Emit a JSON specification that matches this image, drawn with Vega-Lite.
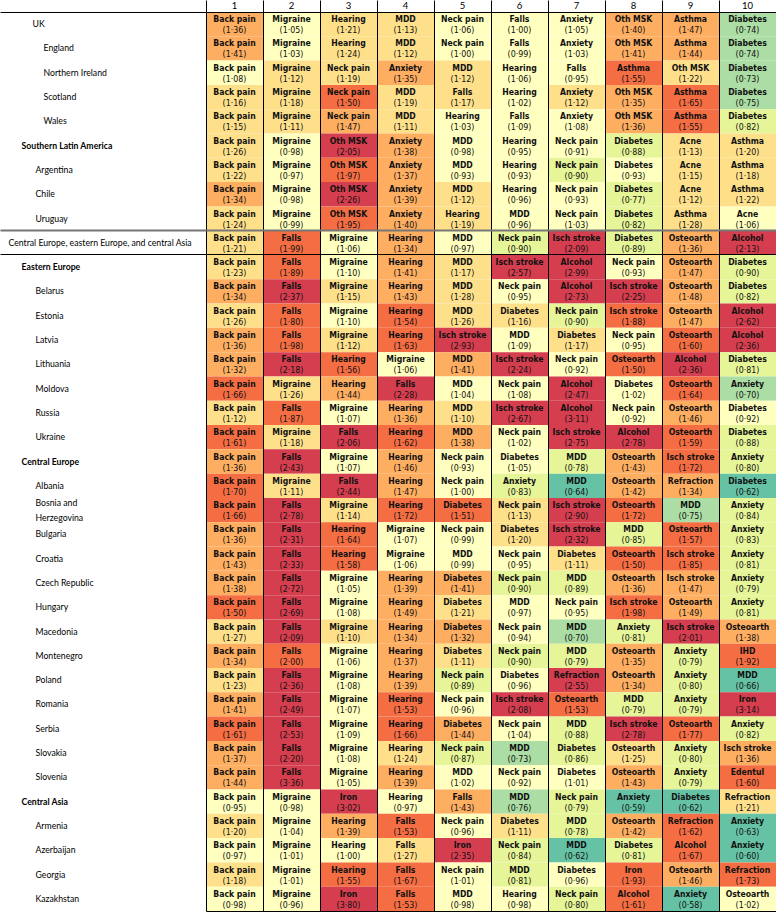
{
  "$schema": "https://vega.github.io/schema/vega-lite/v6.json",
  "autosize": "none",
  "width": 570,
  "height": 899,
  "padding": {"left": 206, "top": 12, "right": 0, "bottom": 5},
  "background": "white",
  "config": {"view": {"stroke": null}},
  "data": {"values": [
{"region":"UK","col":1,"cause":"Back pain","ratio":1.36},{"region":"UK","col":2,"cause":"Migraine","ratio":1.05},{"region":"UK","col":3,"cause":"Hearing","ratio":1.21},{"region":"UK","col":4,"cause":"MDD","ratio":1.13},{"region":"UK","col":5,"cause":"Neck pain","ratio":1.06},{"region":"UK","col":6,"cause":"Falls","ratio":1.00},{"region":"UK","col":7,"cause":"Anxiety","ratio":1.05},{"region":"UK","col":8,"cause":"Oth MSK","ratio":1.40},{"region":"UK","col":9,"cause":"Asthma","ratio":1.47},{"region":"UK","col":10,"cause":"Diabetes","ratio":0.74},
{"region":"England","col":1,"cause":"Back pain","ratio":1.41},{"region":"England","col":2,"cause":"Migraine","ratio":1.03},{"region":"England","col":3,"cause":"Hearing","ratio":1.24},{"region":"England","col":4,"cause":"MDD","ratio":1.12},{"region":"England","col":5,"cause":"Neck pain","ratio":1.00},{"region":"England","col":6,"cause":"Falls","ratio":0.99},{"region":"England","col":7,"cause":"Anxiety","ratio":1.03},{"region":"England","col":8,"cause":"Oth MSK","ratio":1.41},{"region":"England","col":9,"cause":"Asthma","ratio":1.44},{"region":"England","col":10,"cause":"Diabetes","ratio":0.74},
{"region":"Northern Ireland","col":1,"cause":"Back pain","ratio":1.08},{"region":"Northern Ireland","col":2,"cause":"Migraine","ratio":1.12},{"region":"Northern Ireland","col":3,"cause":"Neck pain","ratio":1.19},{"region":"Northern Ireland","col":4,"cause":"Anxiety","ratio":1.35},{"region":"Northern Ireland","col":5,"cause":"MDD","ratio":1.12},{"region":"Northern Ireland","col":6,"cause":"Hearing","ratio":1.06},{"region":"Northern Ireland","col":7,"cause":"Falls","ratio":0.95},{"region":"Northern Ireland","col":8,"cause":"Asthma","ratio":1.55},{"region":"Northern Ireland","col":9,"cause":"Oth MSK","ratio":1.22},{"region":"Northern Ireland","col":10,"cause":"Diabetes","ratio":0.73},
{"region":"Scotland","col":1,"cause":"Back pain","ratio":1.16},{"region":"Scotland","col":2,"cause":"Migraine","ratio":1.18},{"region":"Scotland","col":3,"cause":"Neck pain","ratio":1.50},{"region":"Scotland","col":4,"cause":"MDD","ratio":1.19},{"region":"Scotland","col":5,"cause":"Falls","ratio":1.17},{"region":"Scotland","col":6,"cause":"Hearing","ratio":1.02},{"region":"Scotland","col":7,"cause":"Anxiety","ratio":1.12},{"region":"Scotland","col":8,"cause":"Oth MSK","ratio":1.35},{"region":"Scotland","col":9,"cause":"Asthma","ratio":1.65},{"region":"Scotland","col":10,"cause":"Diabetes","ratio":0.75},
{"region":"Wales","col":1,"cause":"Back pain","ratio":1.15},{"region":"Wales","col":2,"cause":"Migraine","ratio":1.11},{"region":"Wales","col":3,"cause":"Neck pain","ratio":1.47},{"region":"Wales","col":4,"cause":"MDD","ratio":1.11},{"region":"Wales","col":5,"cause":"Hearing","ratio":1.03},{"region":"Wales","col":6,"cause":"Falls","ratio":1.09},{"region":"Wales","col":7,"cause":"Anxiety","ratio":1.08},{"region":"Wales","col":8,"cause":"Oth MSK","ratio":1.36},{"region":"Wales","col":9,"cause":"Asthma","ratio":1.55},{"region":"Wales","col":10,"cause":"Diabetes","ratio":0.82},
{"region":"Southern Latin America","col":1,"cause":"Back pain","ratio":1.26},{"region":"Southern Latin America","col":2,"cause":"Migraine","ratio":0.98},{"region":"Southern Latin America","col":3,"cause":"Oth MSK","ratio":2.05},{"region":"Southern Latin America","col":4,"cause":"Anxiety","ratio":1.38},{"region":"Southern Latin America","col":5,"cause":"MDD","ratio":0.98},{"region":"Southern Latin America","col":6,"cause":"Hearing","ratio":0.95},{"region":"Southern Latin America","col":7,"cause":"Neck pain","ratio":0.91},{"region":"Southern Latin America","col":8,"cause":"Diabetes","ratio":0.88},{"region":"Southern Latin America","col":9,"cause":"Acne","ratio":1.13},{"region":"Southern Latin America","col":10,"cause":"Asthma","ratio":1.20},
{"region":"Argentina","col":1,"cause":"Back pain","ratio":1.22},{"region":"Argentina","col":2,"cause":"Migraine","ratio":0.97},{"region":"Argentina","col":3,"cause":"Oth MSK","ratio":1.97},{"region":"Argentina","col":4,"cause":"Anxiety","ratio":1.37},{"region":"Argentina","col":5,"cause":"MDD","ratio":0.93},{"region":"Argentina","col":6,"cause":"Hearing","ratio":0.93},{"region":"Argentina","col":7,"cause":"Neck pain","ratio":0.90},{"region":"Argentina","col":8,"cause":"Diabetes","ratio":0.93},{"region":"Argentina","col":9,"cause":"Acne","ratio":1.15},{"region":"Argentina","col":10,"cause":"Asthma","ratio":1.18},
{"region":"Chile","col":1,"cause":"Back pain","ratio":1.34},{"region":"Chile","col":2,"cause":"Migraine","ratio":0.98},{"region":"Chile","col":3,"cause":"Oth MSK","ratio":2.26},{"region":"Chile","col":4,"cause":"Anxiety","ratio":1.39},{"region":"Chile","col":5,"cause":"MDD","ratio":1.12},{"region":"Chile","col":6,"cause":"Hearing","ratio":0.96},{"region":"Chile","col":7,"cause":"Neck pain","ratio":0.93},{"region":"Chile","col":8,"cause":"Diabetes","ratio":0.77},{"region":"Chile","col":9,"cause":"Acne","ratio":1.12},{"region":"Chile","col":10,"cause":"Asthma","ratio":1.22},
{"region":"Uruguay","col":1,"cause":"Back pain","ratio":1.24},{"region":"Uruguay","col":2,"cause":"Migraine","ratio":0.99},{"region":"Uruguay","col":3,"cause":"Oth MSK","ratio":1.95},{"region":"Uruguay","col":4,"cause":"Anxiety","ratio":1.40},{"region":"Uruguay","col":5,"cause":"Hearing","ratio":1.19},{"region":"Uruguay","col":6,"cause":"MDD","ratio":0.96},{"region":"Uruguay","col":7,"cause":"Neck pain","ratio":1.03},{"region":"Uruguay","col":8,"cause":"Diabetes","ratio":0.82},{"region":"Uruguay","col":9,"cause":"Asthma","ratio":1.28},{"region":"Uruguay","col":10,"cause":"Acne","ratio":1.06},
{"region":"Central Europe, eastern Europe, and central Asia","col":1,"cause":"Back pain","ratio":1.21},{"region":"Central Europe, eastern Europe, and central Asia","col":2,"cause":"Falls","ratio":1.99},{"region":"Central Europe, eastern Europe, and central Asia","col":3,"cause":"Migraine","ratio":1.06},{"region":"Central Europe, eastern Europe, and central Asia","col":4,"cause":"Hearing","ratio":1.34},{"region":"Central Europe, eastern Europe, and central Asia","col":5,"cause":"MDD","ratio":0.97},{"region":"Central Europe, eastern Europe, and central Asia","col":6,"cause":"Neck pain","ratio":0.90},{"region":"Central Europe, eastern Europe, and central Asia","col":7,"cause":"Isch stroke","ratio":2.09},{"region":"Central Europe, eastern Europe, and central Asia","col":8,"cause":"Diabetes","ratio":0.89},{"region":"Central Europe, eastern Europe, and central Asia","col":9,"cause":"Osteoarth","ratio":1.36},{"region":"Central Europe, eastern Europe, and central Asia","col":10,"cause":"Alcohol","ratio":2.13},
{"region":"Eastern Europe","col":1,"cause":"Back pain","ratio":1.23},{"region":"Eastern Europe","col":2,"cause":"Falls","ratio":1.89},{"region":"Eastern Europe","col":3,"cause":"Migraine","ratio":1.097},{"region":"Eastern Europe","col":4,"cause":"Hearing","ratio":1.41},{"region":"Eastern Europe","col":5,"cause":"MDD","ratio":1.17},{"region":"Eastern Europe","col":6,"cause":"Isch stroke","ratio":2.57},{"region":"Eastern Europe","col":7,"cause":"Alcohol","ratio":2.99},{"region":"Eastern Europe","col":8,"cause":"Neck pain","ratio":0.93},{"region":"Eastern Europe","col":9,"cause":"Osteoarth","ratio":1.47},{"region":"Eastern Europe","col":10,"cause":"Diabetes","ratio":0.90},
{"region":"Belarus","col":1,"cause":"Back pain","ratio":1.34},{"region":"Belarus","col":2,"cause":"Falls","ratio":2.37},{"region":"Belarus","col":3,"cause":"Migraine","ratio":1.15},{"region":"Belarus","col":4,"cause":"Hearing","ratio":1.43},{"region":"Belarus","col":5,"cause":"MDD","ratio":1.28},{"region":"Belarus","col":6,"cause":"Neck pain","ratio":0.95},{"region":"Belarus","col":7,"cause":"Alcohol","ratio":2.73},{"region":"Belarus","col":8,"cause":"Isch stroke","ratio":2.25},{"region":"Belarus","col":9,"cause":"Osteoarth","ratio":1.48},{"region":"Belarus","col":10,"cause":"Diabetes","ratio":0.82},
{"region":"Estonia","col":1,"cause":"Back pain","ratio":1.26},{"region":"Estonia","col":2,"cause":"Falls","ratio":1.80},{"region":"Estonia","col":3,"cause":"Migraine","ratio":1.097},{"region":"Estonia","col":4,"cause":"Hearing","ratio":1.54},{"region":"Estonia","col":5,"cause":"MDD","ratio":1.26},{"region":"Estonia","col":6,"cause":"Diabetes","ratio":1.16},{"region":"Estonia","col":7,"cause":"Neck pain","ratio":0.90},{"region":"Estonia","col":8,"cause":"Isch stroke","ratio":1.88},{"region":"Estonia","col":9,"cause":"Osteoarth","ratio":1.47},{"region":"Estonia","col":10,"cause":"Alcohol","ratio":2.62},
{"region":"Latvia","col":1,"cause":"Back pain","ratio":1.36},{"region":"Latvia","col":2,"cause":"Falls","ratio":1.98},{"region":"Latvia","col":3,"cause":"Migraine","ratio":1.12},{"region":"Latvia","col":4,"cause":"Hearing","ratio":1.63},{"region":"Latvia","col":5,"cause":"Isch stroke","ratio":2.93},{"region":"Latvia","col":6,"cause":"MDD","ratio":1.09},{"region":"Latvia","col":7,"cause":"Diabetes","ratio":1.17},{"region":"Latvia","col":8,"cause":"Neck pain","ratio":0.95},{"region":"Latvia","col":9,"cause":"Osteoarth","ratio":1.60},{"region":"Latvia","col":10,"cause":"Alcohol","ratio":2.36},
{"region":"Lithuania","col":1,"cause":"Back pain","ratio":1.32},{"region":"Lithuania","col":2,"cause":"Falls","ratio":2.18},{"region":"Lithuania","col":3,"cause":"Hearing","ratio":1.56},{"region":"Lithuania","col":4,"cause":"Migraine","ratio":1.06},{"region":"Lithuania","col":5,"cause":"MDD","ratio":1.41},{"region":"Lithuania","col":6,"cause":"Isch stroke","ratio":2.24},{"region":"Lithuania","col":7,"cause":"Neck pain","ratio":0.92},{"region":"Lithuania","col":8,"cause":"Osteoarth","ratio":1.50},{"region":"Lithuania","col":9,"cause":"Alcohol","ratio":2.36},{"region":"Lithuania","col":10,"cause":"Diabetes","ratio":0.81},
{"region":"Moldova","col":1,"cause":"Back pain","ratio":1.66},{"region":"Moldova","col":2,"cause":"Migraine","ratio":1.26},{"region":"Moldova","col":3,"cause":"Hearing","ratio":1.44},{"region":"Moldova","col":4,"cause":"Falls","ratio":2.28},{"region":"Moldova","col":5,"cause":"MDD","ratio":1.04},{"region":"Moldova","col":6,"cause":"Neck pain","ratio":1.08},{"region":"Moldova","col":7,"cause":"Alcohol","ratio":2.47},{"region":"Moldova","col":8,"cause":"Diabetes","ratio":1.02},{"region":"Moldova","col":9,"cause":"Osteoarth","ratio":1.64},{"region":"Moldova","col":10,"cause":"Anxiety","ratio":0.70},
{"region":"Russia","col":1,"cause":"Back pain","ratio":1.12},{"region":"Russia","col":2,"cause":"Falls","ratio":1.87},{"region":"Russia","col":3,"cause":"Migraine","ratio":1.07},{"region":"Russia","col":4,"cause":"Hearing","ratio":1.36},{"region":"Russia","col":5,"cause":"MDD","ratio":1.10},{"region":"Russia","col":6,"cause":"Isch stroke","ratio":2.67},{"region":"Russia","col":7,"cause":"Alcohol","ratio":3.11},{"region":"Russia","col":8,"cause":"Neck pain","ratio":0.92},{"region":"Russia","col":9,"cause":"Osteoarth","ratio":1.46},{"region":"Russia","col":10,"cause":"Diabetes","ratio":0.92},
{"region":"Ukraine","col":1,"cause":"Back pain","ratio":1.61},{"region":"Ukraine","col":2,"cause":"Migraine","ratio":1.18},{"region":"Ukraine","col":3,"cause":"Falls","ratio":2.06},{"region":"Ukraine","col":4,"cause":"Hearing","ratio":1.62},{"region":"Ukraine","col":5,"cause":"MDD","ratio":1.38},{"region":"Ukraine","col":6,"cause":"Neck pain","ratio":1.02},{"region":"Ukraine","col":7,"cause":"Isch stroke","ratio":2.75},{"region":"Ukraine","col":8,"cause":"Alcohol","ratio":2.78},{"region":"Ukraine","col":9,"cause":"Osteoarth","ratio":1.59},{"region":"Ukraine","col":10,"cause":"Diabetes","ratio":0.88},
{"region":"Central Europe","col":1,"cause":"Back pain","ratio":1.36},{"region":"Central Europe","col":2,"cause":"Falls","ratio":2.43},{"region":"Central Europe","col":3,"cause":"Migraine","ratio":1.07},{"region":"Central Europe","col":4,"cause":"Hearing","ratio":1.46},{"region":"Central Europe","col":5,"cause":"Neck pain","ratio":0.93},{"region":"Central Europe","col":6,"cause":"Diabetes","ratio":1.05},{"region":"Central Europe","col":7,"cause":"MDD","ratio":0.78},{"region":"Central Europe","col":8,"cause":"Osteoarth","ratio":1.43},{"region":"Central Europe","col":9,"cause":"Isch stroke","ratio":1.72},{"region":"Central Europe","col":10,"cause":"Anxiety","ratio":0.80},
{"region":"Albania","col":1,"cause":"Back pain","ratio":1.70},{"region":"Albania","col":2,"cause":"Migraine","ratio":1.11},{"region":"Albania","col":3,"cause":"Falls","ratio":2.44},{"region":"Albania","col":4,"cause":"Hearing","ratio":1.47},{"region":"Albania","col":5,"cause":"Neck pain","ratio":1.00},{"region":"Albania","col":6,"cause":"Anxiety","ratio":0.83},{"region":"Albania","col":7,"cause":"MDD","ratio":0.64},{"region":"Albania","col":8,"cause":"Osteoarth","ratio":1.42},{"region":"Albania","col":9,"cause":"Refraction","ratio":1.34},{"region":"Albania","col":10,"cause":"Diabetes","ratio":0.62},
{"region":"Bosnia and Herzegovina","col":1,"cause":"Back pain","ratio":1.66},{"region":"Bosnia and Herzegovina","col":2,"cause":"Falls","ratio":2.78},{"region":"Bosnia and Herzegovina","col":3,"cause":"Migraine","ratio":1.14},{"region":"Bosnia and Herzegovina","col":4,"cause":"Hearing","ratio":1.72},{"region":"Bosnia and Herzegovina","col":5,"cause":"Diabetes","ratio":1.51},{"region":"Bosnia and Herzegovina","col":6,"cause":"Neck pain","ratio":1.13},{"region":"Bosnia and Herzegovina","col":7,"cause":"Isch stroke","ratio":2.90},{"region":"Bosnia and Herzegovina","col":8,"cause":"Osteoarth","ratio":1.72},{"region":"Bosnia and Herzegovina","col":9,"cause":"MDD","ratio":0.75},{"region":"Bosnia and Herzegovina","col":10,"cause":"Anxiety","ratio":0.84},
{"region":"Bulgaria","col":1,"cause":"Back pain","ratio":1.36},{"region":"Bulgaria","col":2,"cause":"Falls","ratio":2.31},{"region":"Bulgaria","col":3,"cause":"Hearing","ratio":1.64},{"region":"Bulgaria","col":4,"cause":"Migraine","ratio":1.07},{"region":"Bulgaria","col":5,"cause":"Neck pain","ratio":0.99},{"region":"Bulgaria","col":6,"cause":"Diabetes","ratio":1.20},{"region":"Bulgaria","col":7,"cause":"Isch stroke","ratio":2.32},{"region":"Bulgaria","col":8,"cause":"MDD","ratio":0.85},{"region":"Bulgaria","col":9,"cause":"Osteoarth","ratio":1.57},{"region":"Bulgaria","col":10,"cause":"Anxiety","ratio":0.83},
{"region":"Croatia","col":1,"cause":"Back pain","ratio":1.43},{"region":"Croatia","col":2,"cause":"Falls","ratio":2.33},{"region":"Croatia","col":3,"cause":"Hearing","ratio":1.58},{"region":"Croatia","col":4,"cause":"Migraine","ratio":1.06},{"region":"Croatia","col":5,"cause":"MDD","ratio":0.99},{"region":"Croatia","col":6,"cause":"Neck pain","ratio":0.95},{"region":"Croatia","col":7,"cause":"Diabetes","ratio":1.11},{"region":"Croatia","col":8,"cause":"Osteoarth","ratio":1.50},{"region":"Croatia","col":9,"cause":"Isch stroke","ratio":1.85},{"region":"Croatia","col":10,"cause":"Anxiety","ratio":0.81},
{"region":"Czech Republic","col":1,"cause":"Back pain","ratio":1.38},{"region":"Czech Republic","col":2,"cause":"Falls","ratio":2.72},{"region":"Czech Republic","col":3,"cause":"Migraine","ratio":1.05},{"region":"Czech Republic","col":4,"cause":"Hearing","ratio":1.39},{"region":"Czech Republic","col":5,"cause":"Diabetes","ratio":1.41},{"region":"Czech Republic","col":6,"cause":"Neck pain","ratio":0.90},{"region":"Czech Republic","col":7,"cause":"MDD","ratio":0.89},{"region":"Czech Republic","col":8,"cause":"Osteoarth","ratio":1.36},{"region":"Czech Republic","col":9,"cause":"Isch stroke","ratio":1.47},{"region":"Czech Republic","col":10,"cause":"Anxiety","ratio":0.79},
{"region":"Hungary","col":1,"cause":"Back pain","ratio":1.50},{"region":"Hungary","col":2,"cause":"Falls","ratio":2.69},{"region":"Hungary","col":3,"cause":"Migraine","ratio":1.08},{"region":"Hungary","col":4,"cause":"Hearing","ratio":1.49},{"region":"Hungary","col":5,"cause":"Diabetes","ratio":1.21},{"region":"Hungary","col":6,"cause":"MDD","ratio":0.97},{"region":"Hungary","col":7,"cause":"Neck pain","ratio":0.95},{"region":"Hungary","col":8,"cause":"Isch stroke","ratio":1.98},{"region":"Hungary","col":9,"cause":"Osteoarth","ratio":1.49},{"region":"Hungary","col":10,"cause":"Anxiety","ratio":0.81},
{"region":"Macedonia","col":1,"cause":"Back pain","ratio":1.27},{"region":"Macedonia","col":2,"cause":"Falls","ratio":2.09},{"region":"Macedonia","col":3,"cause":"Migraine","ratio":1.10},{"region":"Macedonia","col":4,"cause":"Hearing","ratio":1.34},{"region":"Macedonia","col":5,"cause":"Diabetes","ratio":1.32},{"region":"Macedonia","col":6,"cause":"Neck pain","ratio":0.94},{"region":"Macedonia","col":7,"cause":"MDD","ratio":0.70},{"region":"Macedonia","col":8,"cause":"Anxiety","ratio":0.81},{"region":"Macedonia","col":9,"cause":"Isch stroke","ratio":2.01},{"region":"Macedonia","col":10,"cause":"Osteoarth","ratio":1.38},
{"region":"Montenegro","col":1,"cause":"Back pain","ratio":1.34},{"region":"Montenegro","col":2,"cause":"Falls","ratio":2.00},{"region":"Montenegro","col":3,"cause":"Migraine","ratio":1.06},{"region":"Montenegro","col":4,"cause":"Hearing","ratio":1.37},{"region":"Montenegro","col":5,"cause":"Diabetes","ratio":1.11},{"region":"Montenegro","col":6,"cause":"Neck pain","ratio":0.90},{"region":"Montenegro","col":7,"cause":"MDD","ratio":0.79},{"region":"Montenegro","col":8,"cause":"Osteoarth","ratio":1.35},{"region":"Montenegro","col":9,"cause":"Anxiety","ratio":0.79},{"region":"Montenegro","col":10,"cause":"IHD","ratio":1.92},
{"region":"Poland","col":1,"cause":"Back pain","ratio":1.23},{"region":"Poland","col":2,"cause":"Falls","ratio":2.36},{"region":"Poland","col":3,"cause":"Migraine","ratio":1.08},{"region":"Poland","col":4,"cause":"Hearing","ratio":1.39},{"region":"Poland","col":5,"cause":"Neck pain","ratio":0.89},{"region":"Poland","col":6,"cause":"Diabetes","ratio":0.96},{"region":"Poland","col":7,"cause":"Refraction","ratio":2.55},{"region":"Poland","col":8,"cause":"Osteoarth","ratio":1.34},{"region":"Poland","col":9,"cause":"Anxiety","ratio":0.80},{"region":"Poland","col":10,"cause":"MDD","ratio":0.66},
{"region":"Romania","col":1,"cause":"Back pain","ratio":1.41},{"region":"Romania","col":2,"cause":"Falls","ratio":2.49},{"region":"Romania","col":3,"cause":"Migraine","ratio":1.07},{"region":"Romania","col":4,"cause":"Hearing","ratio":1.53},{"region":"Romania","col":5,"cause":"Neck pain","ratio":0.96},{"region":"Romania","col":6,"cause":"Isch stroke","ratio":2.08},{"region":"Romania","col":7,"cause":"Osteoarth","ratio":1.53},{"region":"Romania","col":8,"cause":"MDD","ratio":0.79},{"region":"Romania","col":9,"cause":"Anxiety","ratio":0.79},{"region":"Romania","col":10,"cause":"Iron","ratio":3.14},
{"region":"Serbia","col":1,"cause":"Back pain","ratio":1.61},{"region":"Serbia","col":2,"cause":"Falls","ratio":2.53},{"region":"Serbia","col":3,"cause":"Migraine","ratio":1.09},{"region":"Serbia","col":4,"cause":"Hearing","ratio":1.66},{"region":"Serbia","col":5,"cause":"Diabetes","ratio":1.44},{"region":"Serbia","col":6,"cause":"Neck pain","ratio":1.04},{"region":"Serbia","col":7,"cause":"MDD","ratio":0.88},{"region":"Serbia","col":8,"cause":"Isch stroke","ratio":2.78},{"region":"Serbia","col":9,"cause":"Osteoarth","ratio":1.77},{"region":"Serbia","col":10,"cause":"Anxiety","ratio":0.82},
{"region":"Slovakia","col":1,"cause":"Back pain","ratio":1.37},{"region":"Slovakia","col":2,"cause":"Falls","ratio":2.20},{"region":"Slovakia","col":3,"cause":"Migraine","ratio":1.08},{"region":"Slovakia","col":4,"cause":"Hearing","ratio":1.24},{"region":"Slovakia","col":5,"cause":"Neck pain","ratio":0.87},{"region":"Slovakia","col":6,"cause":"MDD","ratio":0.73},{"region":"Slovakia","col":7,"cause":"Diabetes","ratio":0.86},{"region":"Slovakia","col":8,"cause":"Osteoarth","ratio":1.25},{"region":"Slovakia","col":9,"cause":"Anxiety","ratio":0.80},{"region":"Slovakia","col":10,"cause":"Isch stroke","ratio":1.36},
{"region":"Slovenia","col":1,"cause":"Back pain","ratio":1.44},{"region":"Slovenia","col":2,"cause":"Falls","ratio":3.36},{"region":"Slovenia","col":3,"cause":"Migraine","ratio":1.05},{"region":"Slovenia","col":4,"cause":"Hearing","ratio":1.39},{"region":"Slovenia","col":5,"cause":"MDD","ratio":1.02},{"region":"Slovenia","col":6,"cause":"Neck pain","ratio":0.92},{"region":"Slovenia","col":7,"cause":"Diabetes","ratio":1.01},{"region":"Slovenia","col":8,"cause":"Osteoarth","ratio":1.43},{"region":"Slovenia","col":9,"cause":"Anxiety","ratio":0.79},{"region":"Slovenia","col":10,"cause":"Edentul","ratio":1.60},
{"region":"Central Asia","col":1,"cause":"Back pain","ratio":0.95},{"region":"Central Asia","col":2,"cause":"Migraine","ratio":0.98},{"region":"Central Asia","col":3,"cause":"Iron","ratio":3.02},{"region":"Central Asia","col":4,"cause":"Hearing","ratio":0.97},{"region":"Central Asia","col":5,"cause":"Falls","ratio":1.43},{"region":"Central Asia","col":6,"cause":"MDD","ratio":0.76},{"region":"Central Asia","col":7,"cause":"Neck pain","ratio":0.79},{"region":"Central Asia","col":8,"cause":"Anxiety","ratio":0.59},{"region":"Central Asia","col":9,"cause":"Diabetes","ratio":0.62},{"region":"Central Asia","col":10,"cause":"Refraction","ratio":1.21},
{"region":"Armenia","col":1,"cause":"Back pain","ratio":1.20},{"region":"Armenia","col":2,"cause":"Migraine","ratio":1.04},{"region":"Armenia","col":3,"cause":"Hearing","ratio":1.39},{"region":"Armenia","col":4,"cause":"Falls","ratio":1.53},{"region":"Armenia","col":5,"cause":"Neck pain","ratio":0.96},{"region":"Armenia","col":6,"cause":"Diabetes","ratio":1.11},{"region":"Armenia","col":7,"cause":"MDD","ratio":0.78},{"region":"Armenia","col":8,"cause":"Osteoarth","ratio":1.42},{"region":"Armenia","col":9,"cause":"Refraction","ratio":1.62},{"region":"Armenia","col":10,"cause":"Anxiety","ratio":0.63},
{"region":"Azerbaijan","col":1,"cause":"Back pain","ratio":0.97},{"region":"Azerbaijan","col":2,"cause":"Migraine","ratio":1.01},{"region":"Azerbaijan","col":3,"cause":"Hearing","ratio":1.00},{"region":"Azerbaijan","col":4,"cause":"Falls","ratio":1.27},{"region":"Azerbaijan","col":5,"cause":"Iron","ratio":2.35},{"region":"Azerbaijan","col":6,"cause":"Neck pain","ratio":0.84},{"region":"Azerbaijan","col":7,"cause":"MDD","ratio":0.62},{"region":"Azerbaijan","col":8,"cause":"Diabetes","ratio":0.81},{"region":"Azerbaijan","col":9,"cause":"Alcohol","ratio":1.67},{"region":"Azerbaijan","col":10,"cause":"Anxiety","ratio":0.60},
{"region":"Georgia","col":1,"cause":"Back pain","ratio":1.18},{"region":"Georgia","col":2,"cause":"Migraine","ratio":1.01},{"region":"Georgia","col":3,"cause":"Hearing","ratio":1.55},{"region":"Georgia","col":4,"cause":"Falls","ratio":1.67},{"region":"Georgia","col":5,"cause":"Neck pain","ratio":1.01},{"region":"Georgia","col":6,"cause":"MDD","ratio":0.81},{"region":"Georgia","col":7,"cause":"Diabetes","ratio":0.96},{"region":"Georgia","col":8,"cause":"Iron","ratio":1.93},{"region":"Georgia","col":9,"cause":"Osteoarth","ratio":1.46},{"region":"Georgia","col":10,"cause":"Refraction","ratio":1.73},
{"region":"Kazakhstan","col":1,"cause":"Back pain","ratio":0.98},{"region":"Kazakhstan","col":2,"cause":"Migraine","ratio":0.96},{"region":"Kazakhstan","col":3,"cause":"Iron","ratio":3.80},{"region":"Kazakhstan","col":4,"cause":"Falls","ratio":1.53},{"region":"Kazakhstan","col":5,"cause":"MDD","ratio":0.98},{"region":"Kazakhstan","col":6,"cause":"Hearing","ratio":0.98},{"region":"Kazakhstan","col":7,"cause":"Neck pain","ratio":0.80},{"region":"Kazakhstan","col":8,"cause":"Alcohol","ratio":1.61},{"region":"Kazakhstan","col":9,"cause":"Anxiety","ratio":0.58},{"region":"Kazakhstan","col":10,"cause":"Osteoarth","ratio":1.02}
  ]},
  "transform": [
    {"calculate": "'(' + replace(format(datum.ratio, '.2f'), '.', '\u00b7') + ')'", "as": "label"}
  ],
  "encoding": {
    "y": {
      "field": "region", "type": "nominal", "sort": null,
      "scale": {"paddingInner": 0, "paddingOuter": 0},
      "axis": {
        "orient": "left", "title": null, "domain": false,
        "bandPosition": 0, "ticks": true, "tickSize": 206,
        "tickOpacity": {"condition": {"test": "indexof(['UK','Central Europe, eastern Europe, and central Asia','Eastern Europe'], datum.value) >= 0", "value": 1}, "value": 0},
        "tickColor": {"condition": {"test": "datum.value == 'Central Europe, eastern Europe, and central Asia'", "value": "#777"}, "value": "#000"},
        "tickWidth": {"condition": {"test": "datum.value == 'Central Europe, eastern Europe, and central Asia'", "value": 2}, "value": 1},
        "grid": true,
        "gridOpacity": {"condition": {"test": "indexof(['UK','Central Europe, eastern Europe, and central Asia','Eastern Europe'], datum.value) >= 0", "value": 1}, "value": 0},
        "gridColor": {"condition": {"test": "datum.value == 'Central Europe, eastern Europe, and central Asia'", "value": "#777"}, "value": "#000"},
        "gridWidth": {"condition": {"test": "datum.value == 'Central Europe, eastern Europe, and central Asia'", "value": 2}, "value": 1},
        "labelAlign": "left", "labelBaseline": "middle",
        "labelPadding": {"condition": [
          {"test": "datum.value == 'UK'", "value": -32},
          {"test": "indexof(['England','Northern Ireland','Scotland','Wales'], datum.value) >= 0", "value": -43},
          {"test": "indexof(['Southern Latin America','Eastern Europe','Central Europe','Central Asia'], datum.value) >= 0", "value": -21},
          {"test": "datum.value == 'Central Europe, eastern Europe, and central Asia'", "value": -8}
        ], "value": -35},
        "labelOffset": {"condition": {"test": "datum.value == 'Bosnia and Herzegovina'", "value": -7}, "value": 0},
        "labelFont": "Lato", "labelFontSize": 8.7, "labelColor": "#000",
        "labelFontWeight": {"condition": {"test": "indexof(['Southern Latin America','Eastern Europe','Central Europe','Central Asia'], datum.value) >= 0", "value": "bold"}, "value": "normal"},
        "labelLimit": 300, "labelOverlap": false, "labelLineHeight": 15,
        "labelExpr": "datum.value == 'Bosnia and Herzegovina' ? ['Bosnia and', 'Herzegovina'] : datum.value",
        "zindex": 1
      }
    }
  },
  "layer": [
    {
      "mark": {"type": "rect"},
      "encoding": {
        "x": {
          "field": "col", "type": "ordinal",
          "scale": {"paddingInner": 0, "paddingOuter": 0},
          "axis": {
            "orient": "top", "title": null, "domain": false, "labelAngle": 0,
            "bandPosition": 0, "ticks": true, "tickSize": 12, "tickColor": "#000", "tickWidth": 1,
            "grid": true, "gridColor": "#000", "gridWidth": 1, "gridOpacity": 1,
            "labelPadding": -10, "labelFont": "Lato", "labelFontSize": 9.5, "labelColor": "#000", "zindex": 1
          }
        },
        "color": {
          "field": "ratio", "type": "quantitative",
          "scale": {"type": "threshold", "domain": [0.68, 0.765, 0.905, 1.1, 1.3, 1.5, 2.005], "range": ["#66c2a5", "#abdda4", "#e6f598", "#ffffbf", "#fee08b", "#fdae61", "#f46d43", "#d53e4f"]},
          "legend": null
        }
      }
    },
    {
      "mark": {"type": "text", "dy": -5, "baseline": "middle", "align": "center", "font": "'Liberation Sans Narrow', 'DejaVu Sans Condensed', 'Roboto Condensed', 'Arial Narrow', sans-serif", "fontSize": 8.6, "fontWeight": "bold", "color": "#111"},
      "encoding": {
        "x": {"field": "col", "type": "ordinal", "axis": {"orient": "bottom", "title": null, "labels": false, "ticks": false, "grid": false, "domain": true, "domainColor": "#000", "domainWidth": 1, "zindex": 1}},
        "text": {"field": "cause"}
      }
    },
    {
      "mark": {"type": "text", "dy": 6, "baseline": "middle", "align": "center", "font": "'Liberation Sans Narrow', 'DejaVu Sans Condensed', 'Roboto Condensed', 'Arial Narrow', sans-serif", "fontSize": 8.8, "color": "#111"},
      "encoding": {
        "x": {"field": "col", "type": "ordinal", "axis": null},
        "text": {"field": "label"}
      }
    }
  ],
  "resolve": {"axis": {"x": "independent"}}
}
